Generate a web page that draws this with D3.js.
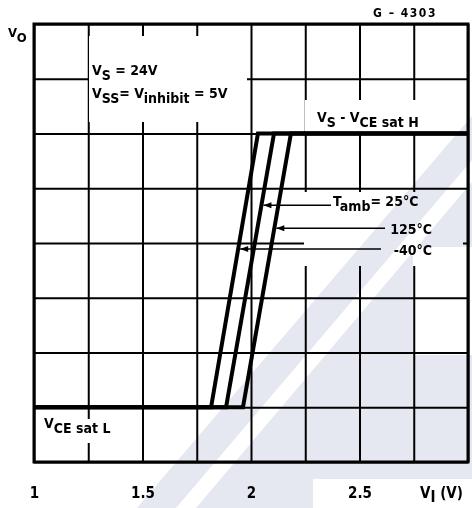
<!DOCTYPE html>
<html>
<head>
<meta charset="utf-8">
<script src="https://cdn.jsdelivr.net/npm/d3@7"></script>
<style>
  body { margin: 0; background: #fff; }
  text { font-family: "DejaVu Sans Condensed", "DejaVu Sans", sans-serif; font-weight: bold; fill: #000; }
</style>
</head>
<body>
<svg id="plot" width="472" height="508"></svg>
<script>
// input threshold curves, Vo vs Vi, one per ambient temperature
const temps = ["-40°C", "25°C", "125°C"]
const viLow = [1.816, 1.885, 1.963]   // Vi where Vo leaves the low level
const viHigh = [2.032, 2.106, 2.184]  // Vi where Vo reaches the high level
const voLevels = [1, 6]               // VCE sat L, Vs - VCE sat H (grid units)
const leaderVo = [3.89, 4.69, 4.27]   // where each label arrow hits its curve

const xTicks = [1, 1.5, 2, 2.5]
const xGrid = [1, 1.25, 1.5, 1.75, 2, 2.25, 2.5, 2.75, 3]
const yGrid = [0, 1, 2, 3, 4, 5, 6, 7, 8]

const width = 472
const height = 508
const margin = ({ top: 24, right: 4, bottom: 46, left: 34 })

const x = d3.scaleLinear()
    .domain([1, 3])
    .range([margin.left, width - margin.right])

const y = d3.scaleLinear()
    .domain([0, 8])
    .range([height - margin.bottom, margin.top])

const svg = d3.select("#plot")

// grid
svg.append("g")
    .attr("transform", `translate(0,${height - margin.bottom})`)
    .call(d3.axisBottom(x).tickValues(xGrid).tickSize(-(height - margin.top - margin.bottom)).tickFormat(""))
    .call(g => g.select(".domain").remove())
    .call(g => g.selectAll("line").attr("stroke", "#000").attr("stroke-width", 2))

svg.append("g")
    .attr("transform", `translate(${margin.left},0)`)
    .call(d3.axisLeft(y).tickValues(yGrid).tickSize(-(width - margin.left - margin.right)).tickFormat(""))
    .call(g => g.select(".domain").remove())
    .call(g => g.selectAll("line").attr("stroke", "#000").attr("stroke-width", 2))

svg.append("rect")
    .attr("x", margin.left).attr("y", margin.top)
    .attr("width", width - margin.left - margin.right)
    .attr("height", height - margin.top - margin.bottom)
    .attr("fill", "none").attr("stroke", "#000").attr("stroke-width", 3)

// blank boxes behind the labels (grid is interrupted there)
const blanks = [[89, 36, 158, 86], [305, 100, 160, 32], [304, 192, 159, 74], [40, 419, 94, 24]]
svg.append("g").selectAll("rect").data(blanks).join("rect")
    .attr("x", d => d[0]).attr("y", d => d[1])
    .attr("width", d => d[2]).attr("height", d => d[3])
    .attr("fill", "#fff")

// faint watermark
const wm = svg.append("g").attr("fill", "rgb(229,231,241)").style("mix-blend-mode", "multiply")
wm.append("path").attr("d", "M137,508 L176,508 L472,160 L472,116 Z")
wm.append("path").attr("d", "M196,508 L313,508 L313,479 L472,479 L472,355 L413,355 L413,247 L472,247 L472,182 Z")

// curves
const line = d3.line()
    .x(d => x(d[0]))
    .y(d => y(d[1]))

temps.forEach((t, i) => {
    const pts = [[1, voLevels[0]], [viLow[i], voLevels[0]], [viHigh[i], voLevels[1]], [3, voLevels[1]]]
    svg.append("path")
        .datum(pts)
        .attr("fill", "none")
        .attr("stroke", "#000")
        .attr("stroke-width", 4)
        .attr("stroke-linejoin", "miter")
        .attr("d", line)
})

// leaders with arrows
const leaderStart = [381, 331, 385]
temps.forEach((t, i) => {
    const f = (leaderVo[i] - voLevels[0]) / (voLevels[1] - voLevels[0])
    const tipX = x(viLow[i] + f * (viHigh[i] - viLow[i])) + 2
    const ty = y(leaderVo[i])
    svg.append("line")
        .attr("x1", tipX).attr("x2", leaderStart[i])
        .attr("y1", ty).attr("y2", ty)
        .attr("stroke", "#000").attr("stroke-width", 1.6)
    svg.append("path")
        .attr("d", `M${tipX},${ty} l8,-3 l0,6 Z`)
        .attr("fill", "#000")
})

// labels
function label(xp, yp, parts, size, anchor) {
    const t = svg.append("text")
        .attr("x", xp).attr("y", yp)
        .attr("font-size", size)
        .attr("text-anchor", anchor || "start")
    let shift = 0
    parts.forEach(p => {
        const dy = p[1] - shift
        shift = p[1]
        t.append("tspan").attr("dy", dy).attr("font-size", p[2] || size).text(p[0])
    })
    return t
}

label(8, 37, [["V", 0], ["O", 5]], 13)
label(405, 17, [["G – 4303", 0]], 12, "middle").attr("letter-spacing", 1.5)
label(92, 75, [["V", 0], ["S", 5], [" = 24V", 0]], 14)
label(92, 98, [["V", 0], ["SS", 5], ["= V", 0], ["inhibit", 5], [" = 5V", 0]], 14)
label(317, 122, [["V", 0], ["S", 5], [" - V", 0], ["CE sat H", 5]], 14)
label(333, 206, [["T", 0], ["amb", 5], ["= 25°C", 0]], 14)
label(432, 234, [["125°C", 0]], 14, "end")
label(432, 255, [["-40°C", 0]], 14, "end")
label(44, 428, [["V", 0], ["CE sat L", 5]], 14)

// x labels
svg.append("g")
    .attr("transform", `translate(0,${height - margin.bottom})`)
    .call(d3.axisBottom(x).tickValues(xTicks).tickSize(0).tickPadding(25).tickFormat(d3.format("")))
    .call(g => g.select(".domain").remove())
    .call(g => g.selectAll("text").attr("font-size", 15).attr("font-family", null))

label(420, 498, [["V", 0], ["I", 4], [" (V)", 0]], 15)
</script>
</body>
</html>
